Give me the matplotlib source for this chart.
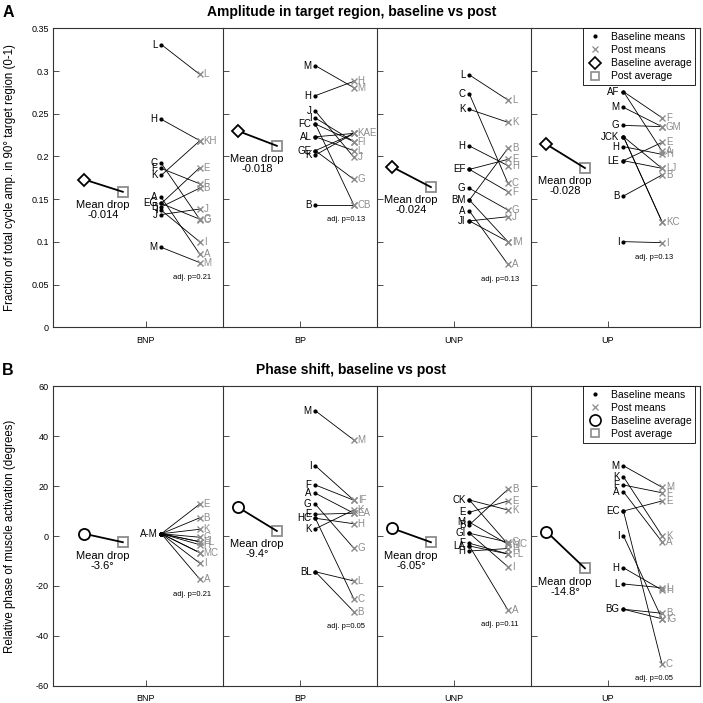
import numpy as np
import matplotlib.pyplot as plt
from matplotlib.lines import Line2D

plt.rcParams['font.family'] = ['Liberation Sans', 'DejaVu Sans']

groups = ['BNP', 'BP', 'UNP', 'UP']

# ---- panel A: fraction of cycle amplitude in 90 deg target region ----
amp_letters = [
    ['L', 'K', 'H', 'C', 'F', 'A', 'G', 'E', 'B', 'I', 'J', 'M'],
    ['C', 'B', 'F', 'I', 'K', 'L', 'A', 'E', 'G', 'H', 'J', 'M'],
    ['F', 'E', 'I', 'M', 'B', 'J', 'L', 'C', 'K', 'H', 'G', 'A'],
    ['K', 'C', 'E', 'L', 'J', 'F', 'A', 'G', 'M', 'H', 'B', 'I'],
]
amp_base = [
    [0.331, 0.178, 0.2435, 0.192, 0.186, 0.152, 0.145, 0.145, 0.141, 0.137, 0.132, 0.0936],
    [0.238, 0.1432, 0.238, 0.245, 0.2017, 0.223, 0.223, 0.2068, 0.2068, 0.2712, 0.2532, 0.3063],
    [0.1849, 0.1849, 0.1245, 0.149, 0.149, 0.1245, 0.2954, 0.2731, 0.2552, 0.2123, 0.1627, 0.1362],
    [0.2232, 0.2232, 0.1951, 0.1951, 0.2232, 0.2759, 0.2759, 0.2364, 0.2575, 0.2115, 0.1537, 0.1003],
]
amp_post = [
    [0.296, 0.2185, 0.2185, 0.1262, 0.168, 0.0855, 0.1265, 0.187, 0.163, 0.100, 0.1385, 0.0757],
    [0.1432, 0.1432, 0.2173, 0.2173, 0.227, 0.2068, 0.227, 0.227, 0.1732, 0.288, 0.199, 0.2805],
    [0.1588, 0.1966, 0.1003, 0.1003, 0.2095, 0.1295, 0.2661, 0.1686, 0.24, 0.1892, 0.1373, 0.0737],
    [0.1237, 0.1237, 0.2165, 0.1861, 0.1861, 0.2454, 0.2064, 0.2349, 0.2349, 0.2025, 0.1783, 0.0991],
]
amp_drop = ['-0.014', '-0.018', '-0.024', '-0.028']
amp_p = ['0.21', '0.13', '0.13', '0.13']

# ---- panel B: relative phase of muscle activation (degrees) ----
ph_letters = [
    ['M', 'C', 'F', 'L', 'A', 'B', 'E', 'G', 'H', 'I', 'K'],
    ['C', 'H', 'L', 'B', 'I', 'F', 'E', 'A', 'G', 'K', 'M'],
    ['K', 'M', 'C', 'I', 'G', 'A', 'F', 'L', 'E', 'B', 'H'],
    ['C', 'E', 'I', 'G', 'B', 'M', 'K', 'F', 'A', 'H', 'L'],
]
ph_base = [
    [0.9, 0.9, 0.9, 0.9, 0.9, 0.9, 0.9, 0.9, 0.9, 0.9, 0.9],
    [7.1, 7.1, -14.3, -14.3, 28.1, 20.4, 8.7, 17.1, 12.7, 2.9, 50.1],
    [14.4, 5.5, 14.4, 1.1, 1.1, -4.0, -2.9, -4.0, 9.5, 4.5, -6.0],
    [10.0, 10.0, 0.1, -29.3, -29.3, 28.1, 23.7, 20.4, 17.7, -12.7, -19.2],
]
ph_post = [
    [-6.7, -6.7, -2.3, -2.3, -17.3, 7.3, 12.8, -0.5, -3.5, -10.9, 2.7],
    [-25.2, 4.9, -18.0, -30.3, 14.3, 14.3, 9.1, 9.1, -4.9, 10.4, 38.4],
    [10.4, -3.3, -3.3, -12.3, -2.5, -29.6, -7.2, -7.2, 14.0, 18.7, -5.0],
    [-51.2, 14.0, -33.1, -33.1, -30.9, 19.5, 0.1, 17.3, -2.3, -21.6, -20.7],
]
ph_drop = ['-3.6\u00b0', '-9.4\u00b0', '-6.05\u00b0', '-14.8\u00b0']
ph_p = ['0.21', '0.05', '0.11', '0.05']

GRAY = '#8c8c8c'
SPINE = '#333333'
X_BAVG, X_PAVG, X_BASE, X_POST = -0.4, -0.15, 0.1, 0.35


def merged_labels(letters, vals, reverse):
    out = []
    used = set()
    for i in range(len(letters)):
        if i in used:
            continue
        same = [j for j in range(len(letters))
                if j not in used and abs(vals[j] - vals[i]) < 1e-9]
        used.update(same)
        names = [letters[j] for j in same]
        if len(names) > 3:
            s = min(names) + '-' + max(names)
        else:
            s = ''.join(names[::-1] if reverse else names)
        out.append((s, vals[i]))
    return out


def draw_panel(bottom, top, letters, base, post, drops, pvals, ylim, yticks,
               ylabel, avg_marker, avg_ms, title, tag):
    gs = fig.add_gridspec(1, 4, left=0.0761, right=0.9964, bottom=bottom, top=top,
                          wspace=0, width_ratios=[1.1, 1, 1, 1.1])
    yr = ylim[1] - ylim[0]
    axes = []
    for k in range(4):
        ax = fig.add_subplot(gs[0, k])
        axes.append(ax)
        b = np.array(base[k])
        p = np.array(post[k])
        for bi, pi in zip(b, p):
            ax.plot([X_BASE, X_POST], [bi, pi], color='k', lw=0.6, zorder=2)
        ax.plot(np.full(len(b), X_BASE), b, ls='none', marker='.', ms=4,
                color='k', zorder=3)
        ax.plot(np.full(len(p), X_POST), p, ls='none', marker='x', ms=4.5,
                mew=1.0, color=GRAY, zorder=3)
        for s, v in merged_labels(letters[k], list(b), True):
            ax.text(X_BASE - 0.025, v, s, ha='right', va='center', fontsize=7,
                    color='k')
        for s, v in merged_labels(letters[k], list(p), False):
            ax.text(X_POST + 0.025, v, s, ha='left', va='center', fontsize=7,
                    color=GRAY)
        bm, pm = b.mean(), p.mean()
        ax.plot([X_BAVG, X_PAVG], [bm, pm], color='k', lw=1.3, zorder=2)
        ax.plot(X_BAVG, bm, marker=avg_marker, ms=avg_ms, mfc='white', mec='k',
                mew=1.3, zorder=4)
        ax.plot(X_PAVG, pm, marker='s', ms=7, mfc='none', mec=GRAY, mew=1.3,
                zorder=1)
        ax.annotate('Mean drop\n' + drops[k], xy=(-0.28, pm), xytext=(0, -6),
                    textcoords='offset points', ha='center', va='top',
                    fontsize=8, linespacing=1.0)
        ax.text(0.30, p.min() - 0.05 * yr, 'adj. p=' + pvals[k], ha='center',
                va='center', fontsize=5.5)

        ax.set_xlim(-0.6 if k == 0 else -0.5, 0.6 if k == 3 else 0.5)
        ax.set_ylim(*ylim)
        ax.set_yticks(yticks)
        ax.set_xticks([0])
        ax.set_xticklabels([groups[k]])
        ax.tick_params(axis='both', direction='in', length=4, width=0.6,
                       labelsize=6.5, colors=SPINE, labelcolor='k')
        ax.tick_params(axis='x', pad=6)
        ax.tick_params(axis='y', labelleft=(k == 0))
        if k == 0:
            ax.yaxis.set_major_formatter(plt.FormatStrFormatter('%g'))
        for side, sp in ax.spines.items():
            sp.set_color(SPINE)
            sp.set_linewidth(0.8)
        if k < 3:
            ax.spines['right'].set_visible(False)

    handles = [
        Line2D([], [], ls='none', marker='.', ms=4, color='k'),
        Line2D([], [], ls='none', marker='x', ms=4, mew=0.9, color=GRAY),
        Line2D([], [], ls='none', marker=avg_marker, ms=avg_ms, mfc='none',
               mec='k', mew=1.2),
        Line2D([], [], ls='none', marker='s', ms=6, mfc='none', mec=GRAY, mew=1.2),
    ]
    leg = axes[3].legend(handles, ['Baseline means', 'Post means',
                                   'Baseline average', 'Post average'],
                         loc='upper right', bbox_to_anchor=(0.97, 1.0),
                         borderaxespad=0, fontsize=7.5, fancybox=False,
                         framealpha=1, edgecolor='k', handlelength=1.5,
                         handletextpad=0.8, borderpad=0.35, labelspacing=0.3)
    leg.get_frame().set_linewidth(0.6)

    yc = (bottom + top) / 2
    fig.text(10 / 703, yc, ylabel, rotation=90, ha='center', va='center',
             fontsize=8.3)
    fig.text(0.5, top + 16 / 703, title, ha='center', va='center',
             fontsize=10, fontweight='bold')
    fig.text(8 / 703, top + 16 / 703, tag, ha='center', va='center',
             fontsize=11.5, fontweight='bold')


fig = plt.figure(figsize=(7.03, 7.03), dpi=100)

draw_panel(0.5344, 0.9597, amp_letters, amp_base, amp_post, amp_drop, amp_p,
           (0, 0.35), np.arange(0, 0.351, 0.05),
           'Fraction of total cycle amp. in 90\u00b0 target region (0-1)',
           'D', 6.2, 'Amplitude in target region, baseline vs post', 'A')

draw_panel(0.0242, 0.4509, ph_letters, ph_base, ph_post, ph_drop, ph_p,
           (-60, 60), np.arange(-60, 61, 20),
           'Relative phase of muscle activation (degrees)',
           'o', 8, 'Phase shift, baseline vs post', 'B')

fig.savefig('out.png', dpi=100)
